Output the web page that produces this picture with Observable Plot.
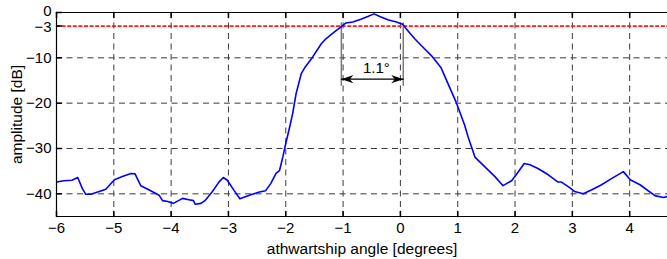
<!DOCTYPE html>
<html>
<head>
<meta charset="utf-8">
<script src="https://cdn.jsdelivr.net/npm/d3@7"></script>
<script src="https://cdn.jsdelivr.net/npm/@observablehq/plot@0.6"></script>
<style>
  html, body { margin: 0; padding: 0; background: #fff; }
</style>
</head>
<body>
<div id="chart"></div>
<script>
// beam pattern: athwartship angle [degrees] vs amplitude [dB]
const angle = [-6.00,-5.87,-5.73,-5.63,-5.55,-5.49,-5.40,-5.28,-5.14,-4.99,-4.85,-4.70,-4.63,-4.53,-4.39,-4.21,-4.15,-4.06,-3.96,-3.80,-3.69,-3.61,-3.58,-3.48,-3.41,-3.28,-3.16,-3.09,-3.02,-2.90,-2.80,-2.61,-2.46,-2.35,-2.26,-2.17,-2.11,-2.05,-2.00,-1.94,-1.88,-1.82,-1.73,-1.66,-1.53,-1.38,-1.30,-1.15,-1.03,-0.95,-0.83,-0.69,-0.57,-0.46,-0.36,-0.22,-0.07,0.04,0.13,0.25,0.39,0.54,0.71,0.83,0.97,1.12,1.18,1.30,1.47,1.65,1.79,1.94,2.02,2.16,2.26,2.40,2.58,2.75,2.81,2.96,3.04,3.19,3.34,3.51,3.69,3.89,4.01,4.18,4.44,4.59,4.66];
const amplitude = [-37.4,-37.1,-37.0,-36.4,-38.8,-40.1,-40.1,-39.6,-39.0,-36.9,-36.2,-35.5,-35.6,-38.2,-39.1,-40.3,-41.5,-41.7,-42.1,-41.0,-41.3,-41.5,-42.3,-42.1,-41.5,-39.5,-37.3,-36.4,-37.0,-39.3,-41.1,-40.2,-39.6,-39.3,-37.7,-35.5,-34.9,-31.8,-28.9,-25.7,-22.3,-17.9,-13.5,-12.0,-9.8,-6.9,-5.8,-4.3,-3.1,-2.3,-2.1,-1.5,-0.9,-0.3,-0.9,-1.6,-2.1,-2.6,-4.0,-5.8,-7.6,-9.5,-12.2,-15.7,-19.7,-24.8,-27.4,-31.9,-34.0,-36.2,-38.2,-37.1,-35.8,-33.3,-33.6,-34.4,-35.8,-37.4,-37.4,-38.7,-39.5,-40.0,-39.1,-38.0,-36.6,-35.1,-36.9,-38.0,-40.4,-40.8,-40.6];

const xDomain = [-6, 4.66];
const yDomain = [-45, 0];
const xTicks = [-6, -5, -4, -3, -2, -1, 0, 1, 2, 3, 4];
const yTicks = [0, -3, -10, -20, -30, -40];
const yGrid = [-10, -20, -30, -40];

const threshold = [-3];                 // -3 dB level
const beamEdges = [-1.03, 0.05];        // -3 dB crossings
const beamEdgeSpan = [-2.3, -16.3];     // vertical extent of edge markers
const arrowLevel = -14.7;
const beamLabel = "1.1°";
const beamLabelPos = {x: -0.42, y: -12.2};

const data = angle.map((a, i) => ({angle: a, amp: amplitude[i]}));

function arrowHead(color, context) {
  const ns = "http://www.w3.org/2000/svg";
  const m = document.createElementNS(ns, "marker");
  m.setAttribute("viewBox", "-13 -5 14 10");
  m.setAttribute("markerWidth", 14);
  m.setAttribute("markerHeight", 10);
  m.setAttribute("markerUnits", "userSpaceOnUse");
  m.setAttribute("refX", 0);
  m.setAttribute("refY", 0);
  m.setAttribute("orient", "auto-start-reverse");
  const p = document.createElementNS(ns, "path");
  p.setAttribute("d", "M0,0L-12,-4.2L-8.5,0L-12,4.2Z");
  p.setAttribute("fill", "#000");
  p.setAttribute("stroke", "none");
  m.appendChild(p);
  return m;
}

// plain tick stroke shape for vectors (no arrowhead)
const tickShape = {draw(context, l) { context.moveTo(0, 0); context.lineTo(0, -l); }};

const gridStyle = {stroke: "#3a3a3a", strokeWidth: 1, strokeDasharray: "6,4.5"};

const chart = Plot.plot({
  width: 667,
  height: 259,
  marginLeft: 56,
  marginRight: 0,
  marginTop: 12,
  marginBottom: 43,
  style: {fontFamily: "'Liberation Sans', Arial, sans-serif", fontSize: "14px", color: "#000", background: "#fff"},
  x: {domain: xDomain},
  y: {domain: yDomain},
  marks: [
    // grid
    Plot.ruleX(xTicks.slice(1), {x: d => d, ...gridStyle}),
    Plot.ruleY(yGrid, {y: d => d, ...gridStyle}),
    // -3 dB line
    Plot.ruleY(threshold, {y: d => d, stroke: "#ff1a1a", strokeWidth: 1.6, strokeDasharray: "4,1.6"}),
    // beam edge markers
    Plot.ruleX(beamEdges, {x: d => d, y1: beamEdgeSpan[0], y2: beamEdgeSpan[1], stroke: "#7a7a7a", strokeWidth: 1.5}),
    // arrow
    Plot.line([{x: beamEdges[0], y: arrowLevel}, {x: beamEdges[1], y: arrowLevel}], {x: "x", y: "y", stroke: "#000", strokeWidth: 1.2, markerStart: arrowHead, markerEnd: arrowHead}),
    Plot.text([beamLabel], {x: beamLabelPos.x, y: beamLabelPos.y, text: d => d, fontSize: 15, fill: "#000"}),
    // data
    Plot.line(data, {x: "angle", y: "amp", stroke: "#0000ff", strokeWidth: 1.6, clip: true}),
    // box
    Plot.ruleX([xDomain[0]], {x: d => d, stroke: "#000", strokeWidth: 1.2}),
    Plot.ruleY(yDomain, {y: d => d, stroke: "#000", strokeWidth: 1.2}),
    // inward ticks
    Plot.vectorX(xTicks, {x: d => d, frameAnchor: "bottom", length: 5, rotate: 0, anchor: "start", shape: tickShape, stroke: "#000"}),
    Plot.vectorX(xTicks, {x: d => d, frameAnchor: "top", length: 5, rotate: 180, anchor: "start", shape: tickShape, stroke: "#000"}),
    Plot.vectorY(yTicks, {y: d => d, frameAnchor: "left", length: 5, rotate: 90, anchor: "start", shape: tickShape, stroke: "#000"}),
    // axes
    Plot.axisX(xTicks, {tickSize: 0, tickPadding: 6, fontSize: 15, label: null}),
    Plot.axisX({ticks: [], label: "athwartship angle [degrees]", labelAnchor: "center", labelArrow: "none", labelOffset: 37, fontSize: 15.5}),
    Plot.axisY(yTicks.slice(0, 1), {tickSize: 0, tickPadding: 5, dy: -1.5, fontSize: 15, label: null}),
    Plot.axisY(yTicks.slice(1, 2), {tickSize: 0, tickPadding: 5, dy: 1.5, fontSize: 15, label: null}),
    Plot.axisY(yTicks.slice(2), {tickSize: 0, tickPadding: 5, fontSize: 15, label: null}),
    Plot.axisY({ticks: [], label: "amplitude [dB]", labelAnchor: "center", labelArrow: "none", labelOffset: 46, fontSize: 15.5})
  ]
});

document.getElementById("chart").appendChild(chart);
</script>
</body>
</html>
